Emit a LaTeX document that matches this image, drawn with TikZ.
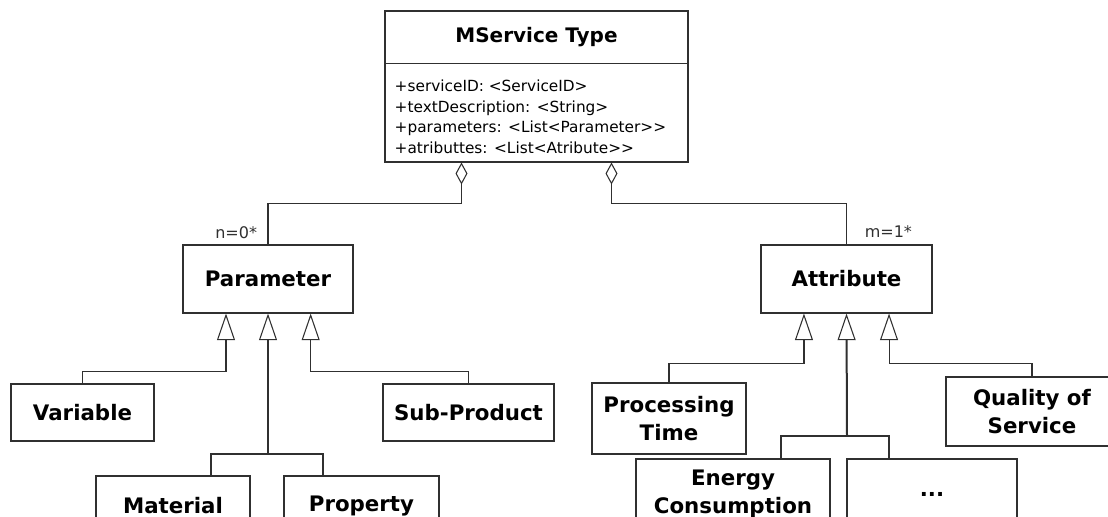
\documentclass[tikz,border=0pt]{standalone}
\usepackage{fontspec}
\setmainfont{DejaVu Sans}
\usepackage{xcolor}
\usetikzlibrary{
    positioning,
    calc,
    arrows.meta
}
\definecolor{LineGray}{HTML}{303030}

\tikzset{
    classbox/.style={
        draw=LineGray,
        line width=0.8pt,
        align=center,
        inner sep=2pt,
        font=\fontsize{16}{21}\selectfont\bfseries
    },
    multlabel/.style={
        inner sep=1pt,
        text=LineGray,
        font=\fontsize{12}{14}\selectfont
    },
    aggline/.style={
        draw=LineGray,
        line width=0.8pt,
        {Diamond[open,length=16.5pt,width=9pt]}-
    },
    genline/.style={
        draw=LineGray,
        line width=0.8pt,
        -{Triangle[open,length=20pt,width=13.5pt]}
    },
    genthick/.style={
        draw=LineGray,
        line width=1.5pt
    }
}

\begin{document}
\begin{tikzpicture}[x=0.75pt,y=-0.75pt]
    \clip (0,0) rectangle (1108,517);
    \useasboundingbox (0,0) rectangle (1108,517);

    % main class
    \node[
        draw=LineGray,
        line width=0.8pt,
        minimum width=227.25pt,
        minimum height=113.25pt,
        inner sep=0pt
    ] (mservice) at (536.5,86.5) {};
    \node[font=\fontsize{15}{17}\selectfont\bfseries] (mstitle) at (536.5,37.5) {MService Type};
    \path (mservice.north) ++(0,53) coordinate (msdiv);
    \draw[LineGray, line width=0.8pt] (mservice.west |- msdiv) -- (mservice.east |- msdiv);
    \node[
        anchor=north west,
        inner sep=0pt,
        align=left,
        font=\fontsize{11.5}{15.5}\selectfont
    ] (msattrs) at ([shift={(7.5pt,-12pt)}]mservice.west |- msdiv) {
        +serviceID: <ServiceID>\\
        +textDescription: <String>\\
        +parameters: <List<Parameter>{}>\\
        +atributtes: <List<Atribute>{}>
    };

    % parameter side
    \node[classbox, minimum width=127.5pt, minimum height=51pt] (parameter) at (268,279) {Parameter};
    \node[classbox, minimum width=107.25pt, minimum height=42.75pt] (variable) at (82.5,412.5) {Variable};
    \node[classbox, minimum width=128.25pt, minimum height=42.75pt] (subproduct) at (468.5,412.5) {Sub-Product};
    \node[classbox, minimum width=115.5pt, minimum height=45pt] (material) at (173,506) {Material};
    \node[classbox, minimum width=116.25pt, minimum height=45pt] (property) at (361.5,506) {Property};
    \node[multlabel, anchor=south east] (nmult) at ([shift={(-7pt,3pt)}]parameter.north) {n=0*};

    % attribute side
    \node[classbox, minimum width=128.25pt, minimum height=51pt] (attribute) at (846.5,279) {Attribute};
    \node[classbox, minimum width=115.5pt, minimum height=53.25pt] (proctime) at (669,418.5) {Processing\\Time};
    \node[classbox, minimum width=129pt, minimum height=51.75pt] (quality) at (1032,411.5) {Quality of\\Service};
    \node[classbox, minimum width=145.5pt, minimum height=52.5pt] (energy) at (733,494) {Energy\\Consumption};
    \node[classbox, minimum width=127.5pt, minimum height=52.5pt] (others) at (932,494) {...};
    \node[multlabel, anchor=south west] (mmult) at ([shift={(12.5pt,4pt)}]attribute.north) {m=1*};

    % aggregations
    \draw[aggline] ([xshift=-56.25pt]mservice.south) -- ++(0,41) -| (parameter.north);
    \draw[aggline] ([xshift=56.25pt]mservice.south) -- ++(0,41) -| (attribute.north);

    % generalizations
    \draw[genline] (variable.north) -- ++(0,-12) -| ([xshift=-31.5pt]parameter.south);
    \draw[genline] (subproduct.north) -- ++(0,-12) -| ([xshift=32pt]parameter.south);
    \coordinate (pjoin) at (268,454);
    \draw[genthick] ([xshift=28.5pt]material.north) |- (pjoin) -| ([xshift=-28.9pt]property.north);
    \draw[genthick, -{Triangle[open,length=20pt,width=13.5pt,line width=0.8pt]}] (pjoin) -- (parameter.south);

    \draw[genline] (proctime.north) -- ++(0,-19) -| ([xshift=-31.9pt]attribute.south);
    \draw[genline] (quality.north) -- ++(0,-13) -| ([xshift=31.9pt]attribute.south);
    \coordinate (ajoin) at (847,436);
    \draw[genthick] ([xshift=36pt]energy.north) |- (ajoin) -| ([xshift=-32.25pt]others.north);
    \draw[genthick, -{Triangle[open,length=20pt,width=13.5pt,line width=0.8pt]}] (ajoin) -- (attribute.south);
\end{tikzpicture}
\end{document}
